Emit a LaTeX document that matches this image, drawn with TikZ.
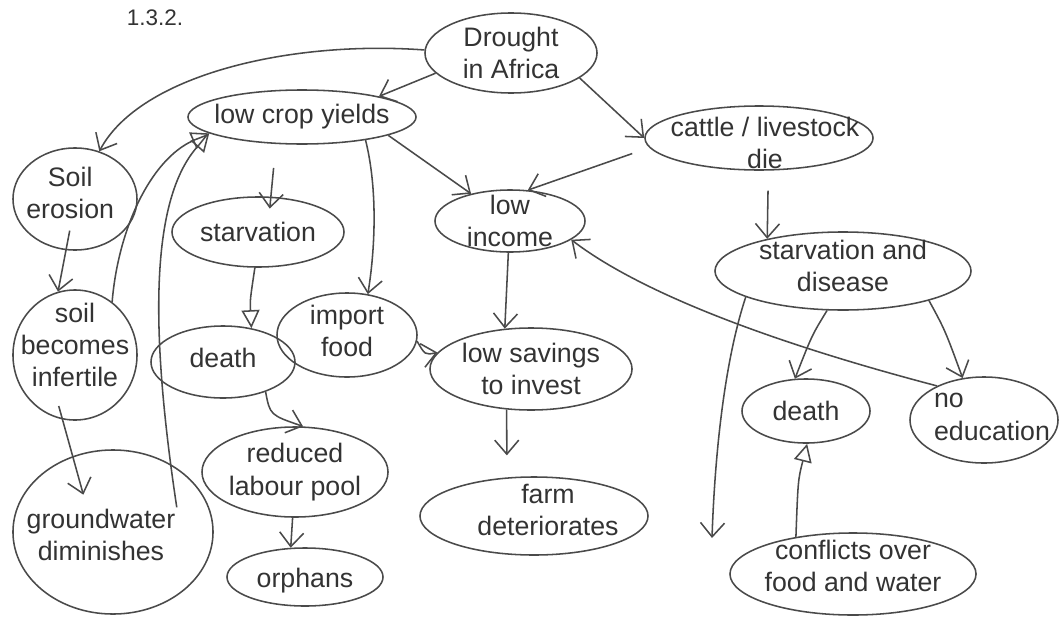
\documentclass[tikz,border=0pt]{standalone}
\usepackage{fontspec}
\setmainfont{Liberation Sans}
\usepackage{tikz}
\usetikzlibrary{arrows.meta,shapes.geometric}
\definecolor{pencil}{HTML}{4A4A4A}

\begin{document}
\begin{tikzpicture}[x=0.025cm, y=-0.025cm,
  bubble/.style={ellipse, draw=pencil, line width=1.1pt, inner sep=0pt},
  txt/.style={font=\fontsize{19}{23}\selectfont, text=black!80, align=center, inner sep=0pt},
  arr/.style={draw=pencil, line width=1.1pt, -{Straight Barb[length=0.35cm, width=0.6cm]}},
  tri/.style={draw=pencil, line width=1.1pt, -{Triangle[open, length=0.45cm, width=0.45cm]}}]
  \useasboundingbox (0,0) rectangle (1064,618);

  \node[txt, font=\fontsize{16}{18}\selectfont] (num) at (155,18) {1.3.2.};

  % top row
  \node[bubble, minimum width=4.3cm, minimum height=2cm,
        label={[txt]center:Drought\\in Africa}] (drought) at (511,53) {};
  \node[bubble, minimum width=5.7cm, minimum height=1.35cm,
        label={[txt]center:low crop yields}] (lowcrop) at (302,117) {};
  \node[bubble, minimum width=5.7cm, minimum height=1.6cm,
        label={[txt, xshift=0.15cm, yshift=-0.12cm]center:cattle / livestock\\die}] (cattle) at (759,138) {};

  % left column
  \node[bubble, minimum width=3.1cm, minimum height=2.55cm,
        label={[txt, xshift=-0.12cm, yshift=0.15cm]center:Soil\\erosion}] (soilero) at (75,199) {};
  \node[bubble, minimum width=3.1cm, minimum height=3.25cm,
        label={[txt, yshift=0.25cm]center:soil\\becomes\\infertile}] (soilinf) at (75,355) {};
  \node[bubble, minimum width=5cm, minimum height=4.1cm,
        label={[txt, xshift=-0.3cm, yshift=-0.08cm]center:groundwater\\diminishes}] (groundw) at (113,532) {};

  % middle
  \node[bubble, minimum width=4.3cm, minimum height=1.75cm,
        label={[txt]center:starvation}] (starv) at (258,232) {};
  \node[bubble, minimum width=3.6cm, minimum height=1.8cm,
        label={[txt, yshift=0.1cm]center:death}] (death1) at (223,362) {};
  \node[bubble, minimum width=3.5cm, minimum height=2.1cm,
        label={[txt, yshift=0.1cm]center:import\\food}] (import) at (347,335) {};
  \node[bubble, minimum width=4.65cm, minimum height=2.25cm,
        label={[txt]center:reduced\\labour pool}] (reduced) at (295,472) {};
  \node[bubble, minimum width=3.9cm, minimum height=1.45cm,
        label={[txt, yshift=-0.08cm]center:orphans}] (orphans) at (305,577) {};

  \node[bubble, minimum width=3.75cm, minimum height=1.55cm,
        label={[txt]center:low\\income}] (lowinc) at (510,221) {};
  \node[bubble, minimum width=5.05cm, minimum height=2.05cm,
        label={[txt]center:low savings\\to invest}] (lowsav) at (531,369) {};
  \node[bubble, minimum width=5.7cm, minimum height=1.95cm,
        label={[txt, xshift=0.35cm, yshift=0.15cm]center:farm\\deteriorates}] (farm) at (534,516) {};

  % right
  \node[bubble, minimum width=6.4cm, minimum height=1.95cm,
        label={[txt, yshift=0.12cm]center:starvation and\\disease}] (starvdis) at (843,271) {};
  \node[bubble, minimum width=3.2cm, minimum height=1.6cm,
        label={[txt]center:death}] (death2) at (806,411) {};
  \node[bubble, minimum width=3.7cm, minimum height=2.15cm,
        label={[txt, align=left, xshift=0.2cm, yshift=0.08cm]center:no\\education}] (noedu) at (984,420) {};
  \node[bubble, minimum width=6.15cm, minimum height=2.05cm,
        label={[txt, yshift=0.2cm]center:conflicts over\\food and water}] (conflicts) at (853,574) {};
  \coordinate (cfend) at (712,538);

  % connectors
  \draw[arr] (drought.195) -- (lowcrop.15);
  \draw[arr] (drought.178) .. controls (290,40) and (140,75) .. (soilero.63);
  \draw[arr] (drought.-20) -- (cattle.west);
  \draw[arr] (lowcrop.-12) -- (lowinc.145);
  \draw[arr, shorten <=0.45cm] (cattle.185) -- (lowinc.60);
  \draw[arr, shorten <=0.6cm, shorten >=-0.3cm] (lowcrop.-134) -- (starv.70);
  \draw[arr] (lowcrop.-20) .. controls (378,190) and (375,250) .. (import.63);
  \draw[arr, shorten <=-0.5cm] (soilero.-100) -- (soilinf.105);
  \draw[tri] (soilinf.55) .. controls (118,230) and (150,160) .. (lowcrop.190);
  \draw[tri, shorten <=-1.1cm] (groundw.50) .. controls (150,330) and (150,200) .. (lowcrop.190);
  \draw[arr, shorten <=-0.35cm, shorten >=-1cm] (soilinf.-101) -- (groundw.118);
  \draw[tri] (starv.-95) .. controls (250,300) .. (death1.50);
  \draw[arr] (death1.-35) .. controls (270,415) .. (reduced.80);
  \draw[arr] (reduced.-93) -- (orphans.116);
  \draw[arr] (import.-5) .. controls (425,355) .. (lowsav.170);
  \draw[arr] (lowinc.-93) -- (lowsav.123);
  \draw[arr, shorten >=0.55cm] (lowsav.-121) -- (farm.125);
  \draw[arr, shorten <=0.5cm] (cattle.-74) -- (starvdis.157);
  \draw[arr] (starvdis.-112) .. controls (812,335) .. (death2.109);
  \draw[arr] (starvdis.-19) .. controls (945,330) .. (noedu.117);
  \draw[arr] (starvdis.-165) .. controls (725,360) and (715,450) .. (cfend);
  \draw[tri] (conflicts.147) .. controls (798,480) .. (death2.-88);
  \draw[arr] (noedu.144) .. controls (800,350) and (650,300) .. (lowinc.-17);
\end{tikzpicture}
\end{document}
